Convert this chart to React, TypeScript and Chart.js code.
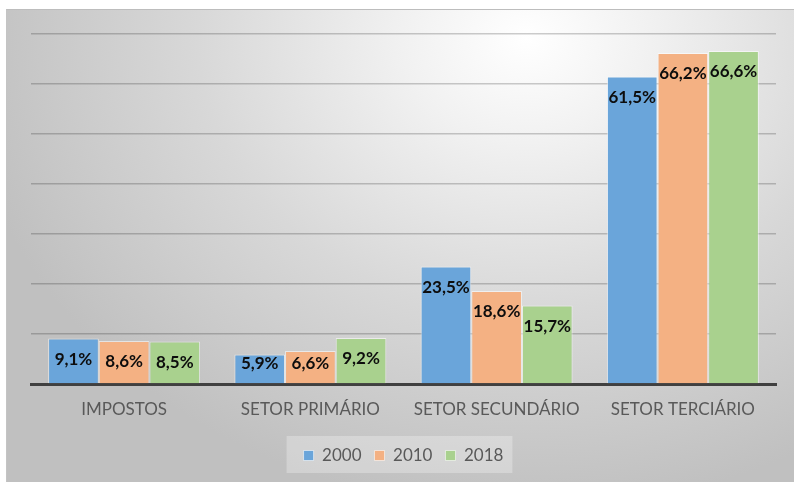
import React, { useEffect, useRef } from "react";
import { Chart, registerables } from "chart.js";

Chart.register(...registerables);

const categories = ["IMPOSTOS", "SETOR PRIMÁRIO", "SETOR SECUNDÁRIO", "SETOR TERCIÁRIO"];
const seriesNames = ["2000", "2010", "2018"];
const values2000 = [9.1, 5.9, 23.5, 61.5];
const values2010 = [8.6, 6.6, 18.6, 66.2];
const values2018 = [8.5, 9.2, 15.7, 66.6];
const seriesColors = ["#6aa5da", "#f4b183", "#a9d18e"];
const yTicksMax = 70;
const yStep = 10;

const labelPlugin = {
  id: "barLabels",
  afterDatasetsDraw(chart: any) {
    const ctx = chart.ctx;
    const base = chart.scales.y.getPixelForValue(0);
    ctx.save();
    ctx.font = "bold 17px Lato";
    ctx.fillStyle = "#0d0d0d";
    ctx.textAlign = "center";
    ctx.textBaseline = "middle";
    chart.data.datasets.forEach((ds: any, di: number) => {
      const meta = chart.getDatasetMeta(di);
      meta.data.forEach((bar: any, i: number) => {
        const v = ds.data[i];
        const txt = v.toFixed(1).replace(".", ",") + "%";
        const y = Math.min(bar.y + 21, base - 20);
        ctx.fillText(txt, bar.x, y);
      });
    });
    ctx.restore();
  },
};

const legendBgPlugin = {
  id: "legendBg",
  beforeDraw(chart: any) {
    const lg = chart.legend;
    if (!lg || !lg.legendHitBoxes || !lg.legendHitBoxes.length) return;
    const boxes = lg.legendHitBoxes;
    const first = boxes[0];
    const last = boxes[boxes.length - 1];
    const ctx = chart.ctx;
    ctx.save();
    ctx.fillStyle = "rgba(255,255,255,0.28)";
    ctx.fillRect(first.left - 17, lg.top + 2, last.left + last.width - first.left + 26, 37);
    ctx.restore();
  },
};

export default function App() {
  const ref = useRef<HTMLCanvasElement>(null);
  useEffect(() => {
    const datasets = [values2000, values2010, values2018].map((d, i) => ({
      label: seriesNames[i],
      data: d,
      backgroundColor: seriesColors[i],
      borderColor: "rgba(255,255,255,0.55)",
      borderWidth: 1,
      categoryPercentage: 0.816,
      barPercentage: 1,
    }));
    const chart = new Chart(ref.current!, {
      type: "bar",
      data: { labels: categories, datasets },
      options: {
        animation: false,
        responsive: false,
        maintainAspectRatio: false,
        layout: { padding: { left: 31, right: 18, top: 34, bottom: 8 } },
        plugins: {
          tooltip: { enabled: false },
          legend: {
            position: "bottom",
            labels: {
              boxWidth: 10,
              boxHeight: 10,
              padding: 13,
              color: "#595959",
              font: { family: "Lato", size: 17 },
            },
          },
        },
        scales: {
          x: {
            grid: { display: false, drawTicks: false },
            border: { color: "#404040", width: 3 },
            ticks: { color: "#595959", font: { family: "Lato", size: 17 }, padding: 15 },
            afterFit(scale: any) {
              scale.height = 50;
            },
          },
          y: {
            min: 0,
            max: yTicksMax,
            ticks: { display: false, stepSize: yStep },
            grid: { color: "rgba(0,0,0,0.2)", lineWidth: 1.5, drawTicks: false },
            border: { display: false },
            afterFit(scale: any) {
              scale.width = 0;
            },
          },
        },
      },
      plugins: [labelPlugin, legendBgPlugin],
    });
    return () => chart.destroy();
  }, []);

  return (
    <div style={{ position: "fixed", left: 0, top: 0, width: 794, height: 482, background: "#ffffff", overflow: "hidden" }}>
      <div
        style={{
          position: "absolute",
          left: 6,
          top: 9,
          width: 788,
          height: 473,
          boxSizing: "border-box",
          borderTop: "1px solid #bdbdbd",
          borderLeft: "1px solid #c4c4c4",
          background: "radial-gradient(ellipse 72% 100% at 66% 6%, #ffffff 0%, #f1f1f1 22%, #d8d8d8 58%, #c0c0c0 100%)",
        }}
      />
      <canvas ref={ref} width={794} height={482} style={{ position: "absolute", left: 0, top: 0, width: 794, height: 482 }} />
    </div>
  );
}
